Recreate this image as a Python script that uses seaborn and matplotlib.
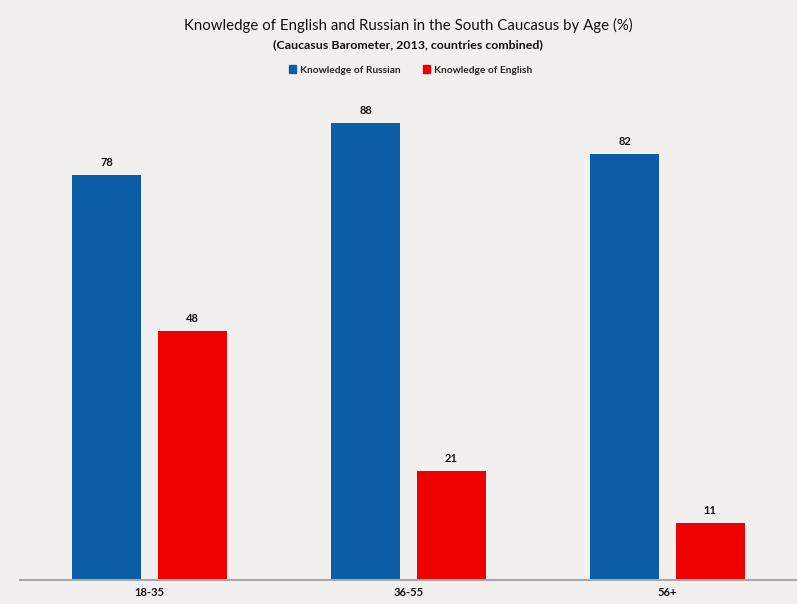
import matplotlib
matplotlib.use("Agg")
import matplotlib.pyplot as plt
import seaborn as sns
import pandas as pd

ages = ["18-35", "36-55", "56+"]
russian = [78, 88, 82]
english = [48, 21, 11]
series = ["Knowledge of Russian", "Knowledge of English"]
colors = ["#0b5ea6", "#ee0000"]

df = pd.DataFrame({
    "age": ages * 2,
    "value": russian + english,
    "language": [series[0]] * 3 + [series[1]] * 3,
})

sns.set_theme(style="white")
plt.rcParams["font.family"] = ["Lato", "DejaVu Sans"]

bg = "#f1f0ee"
fig = plt.figure(figsize=(7.97, 6.04), dpi=100, facecolor=bg)
ax = fig.add_axes([20 / 797, 24 / 604, 1 - 20 / 797, 480 / 604])
ax.set_facecolor(bg)

sns.barplot(data=df, x="age", y="value", hue="language", order=ages,
            hue_order=series, palette=colors, width=0.66, gap=0.195,
            saturation=1, linewidth=0, ax=ax, legend=False)

for cont in ax.containers:
    ax.bar_label(cont, fmt="%d", padding=5, fontsize=8, fontweight="bold",
                 color="#111111")

ax.set_xlim(-0.5, 2.5)
ax.set_ylim(0, 480 / 5.19)
ax.set_xlabel("")
ax.set_ylabel("")
ax.set_yticks([])
for s in ["top", "right", "left"]:
    ax.spines[s].set_visible(False)
ax.spines["bottom"].set_color("#a8a8a8")
ax.spines["bottom"].set_linewidth(1.5)
ax.tick_params(axis="x", length=0, pad=5)
for lbl in ax.get_xticklabels():
    lbl.set_fontsize(8)
    lbl.set_fontweight("bold")
    lbl.set_color("#111111")

fig.text(0.512, 1 - 25 / 604, "Knowledge of English and Russian in the South Caucasus by Age (%)",
         ha="center", va="center", fontsize=10.8, color="#111111")
fig.text(0.512, 1 - 45 / 604, "(Caucasus Barometer, 2013, countries combined)",
         ha="center", va="center", fontsize=8.9, fontweight="bold", color="#111111")

handles = [plt.Rectangle((0, 0), 1, 1, color=c) for c in colors]
fig.legend(handles, series, loc="center", bbox_to_anchor=(0.515, 1 - 70 / 604),
           ncol=2, frameon=False, handlelength=0.7, handleheight=0.7,
           handletextpad=0.4, columnspacing=2.2,
           prop={"weight": "bold", "size": 7.3})

fig.savefig("out.png", dpi=100, facecolor=bg)
